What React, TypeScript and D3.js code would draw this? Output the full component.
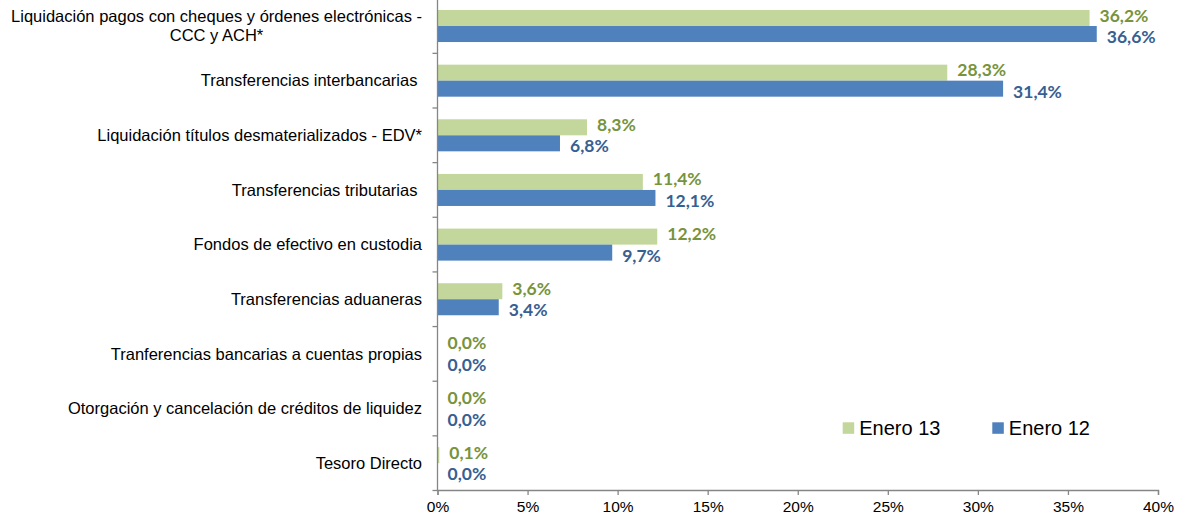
import { useRef, useEffect } from 'react';
import * as d3 from 'd3';

const CATEGORIES = [
  ['Liquidación pagos con cheques y órdenes electrónicas -', 'CCC y ACH*'],
  ['Transferencias interbancarias '],
  ['Liquidación títulos desmaterializados - EDV*'],
  ['Transferencias tributarias '],
  ['Fondos de efectivo en custodia'],
  ['Transferencias aduaneras'],
  ['Tranferencias bancarias a cuentas propias'],
  ['Otorgación y cancelación de créditos de liquidez'],
  ['Tesoro Directo'],
];

const SERIES_NAMES = ['Enero 13', 'Enero 12'];
const ENERO_13 = [36.2, 28.3, 8.3, 11.4, 12.2, 3.6, 0.0, 0.0, 0.1];
const ENERO_12 = [36.6, 31.4, 6.8, 12.1, 9.7, 3.4, 0.0, 0.0, 0.0];
const X_TICKS = [0, 5, 10, 15, 20, 25, 30, 35, 40];

const BAR_COLORS = ['#C3D69B', '#4F81BD'];
const LABEL_COLORS = ['#77933C', '#376092'];
const AXIS_COLOR = '#868686';

export default function App() {
  const svgRef = useRef<SVGSVGElement>(null);

  useEffect(() => {
    if (!svgRef.current) return;
    const svg = d3.select(svgRef.current);
    svg.selectAll('*').remove();

    const x0 = 437.5;
    const x1 = 1158;
    const yTop = -1.3;
    const yBottom = 490.5;
    const labelFont = '"Liberation Sans", Arial, sans-serif';

    const x = d3.scaleLinear().domain([0, 40]).range([x0, x1]);
    const idx = CATEGORIES.map((_, i) => i);
    const y = d3.scaleBand<number>().domain(idx).range([yTop, yBottom]).paddingInner(0.414).paddingOuter(0.207);
    const ySub = d3.scaleBand<number>().domain([0, 1]).range([0, y.bandwidth()]);
    const step = y.step();

    const series = [ENERO_13, ENERO_12];

    // bars
    series.forEach((vals, s) => {
      svg.append('g')
        .selectAll('rect')
        .data(vals)
        .join('rect')
        .attr('x', x(0))
        .attr('y', (_, i) => (y(i) as number) + (ySub(s) as number))
        .attr('width', d => Math.max(0, x(d) - x(0)))
        .attr('height', ySub.bandwidth())
        .attr('fill', BAR_COLORS[s]);
    });

    // value labels (pushed apart a bit so the pair never collides)
    const nudge = [-2.8, 2.8];
    series.forEach((vals, s) => {
      svg.append('g')
        .selectAll('text')
        .data(vals)
        .join('text')
        .attr('x', d => x(d) + 10)
        .attr('y', (_, i) => (y(i) as number) + (ySub(s) as number) + ySub.bandwidth() / 2 + nudge[s])
        .attr('dy', '0.36em')
        .attr('fill', LABEL_COLORS[s])
        .attr('font-family', 'Lato, sans-serif')
        .attr('font-weight', 700)
        .attr('font-size', 17.5)
        .text(d => d.toFixed(1).replace('.', ',') + '%');
    });

    // y axis
    svg.append('line')
      .attr('x1', x0).attr('x2', x0)
      .attr('y1', 0).attr('y2', yBottom)
      .attr('stroke', AXIS_COLOR).attr('stroke-width', 1.3);
    svg.append('g')
      .selectAll('line')
      .data(d3.range(CATEGORIES.length + 1))
      .join('line')
      .attr('x1', x0 - 5).attr('x2', x0)
      .attr('y1', i => yTop + i * step).attr('y2', i => yTop + i * step)
      .attr('stroke', AXIS_COLOR).attr('stroke-width', 1.3);

    // category labels
    const catG = svg.append('g')
      .attr('font-family', labelFont)
      .attr('font-size', 16.5)
      .attr('fill', '#000');
    CATEGORIES.forEach((lines, i) => {
      const cy = (y(i) as number) + y.bandwidth() / 2;
      if (lines.length === 1) {
        catG.append('text')
          .attr('x', 422).attr('y', cy)
          .attr('dy', '0.35em')
          .attr('text-anchor', 'end')
          .style('white-space', 'pre')
          .text(lines[0]);
      } else {
        const first = catG.append('text')
          .attr('x', 422).attr('y', cy - 9.5)
          .attr('dy', '0.35em')
          .attr('text-anchor', 'end')
          .text(lines[0]);
        const w = (first.node() as SVGTextElement).getComputedTextLength();
        catG.append('text')
          .attr('x', 422 - w / 2).attr('y', cy + 9.5)
          .attr('dy', '0.35em')
          .attr('text-anchor', 'middle')
          .text(lines[1]);
      }
    });

    // x axis
    const xAxis = svg.append('g')
      .attr('transform', `translate(0,${yBottom - 0.5})`)
      .call(d3.axisBottom(x).tickValues(X_TICKS).tickSize(5).tickPadding(6).tickFormat(d => `${d}%`));
    xAxis.select('.domain').attr('stroke', AXIS_COLOR).attr('stroke-width', 1.3);
    xAxis.selectAll('.tick line').attr('stroke', AXIS_COLOR).attr('stroke-width', 1.3);
    xAxis.selectAll('.tick text')
      .attr('fill', '#000')
      .attr('font-family', labelFont)
      .attr('font-size', 15.5);

    // legend
    const legendX = [842.7, 992.3];
    SERIES_NAMES.forEach((name, s) => {
      const lg = svg.append('g').attr('transform', `translate(${legendX[s]},422.3)`);
      lg.append('rect').attr('width', 11.5).attr('height', 11.5).attr('fill', BAR_COLORS[s]);
      lg.append('text')
        .attr('x', 16.5).attr('y', 12.7)
        .attr('font-family', labelFont)
        .attr('font-size', 20)
        .attr('fill', '#000')
        .text(name);
    });
  }, []);

  return (
    <svg
      ref={svgRef}
      width={1181}
      height={517}
      style={{ position: 'absolute', left: 0, top: 0, display: 'block', background: '#fff' }}
    />
  );
}
